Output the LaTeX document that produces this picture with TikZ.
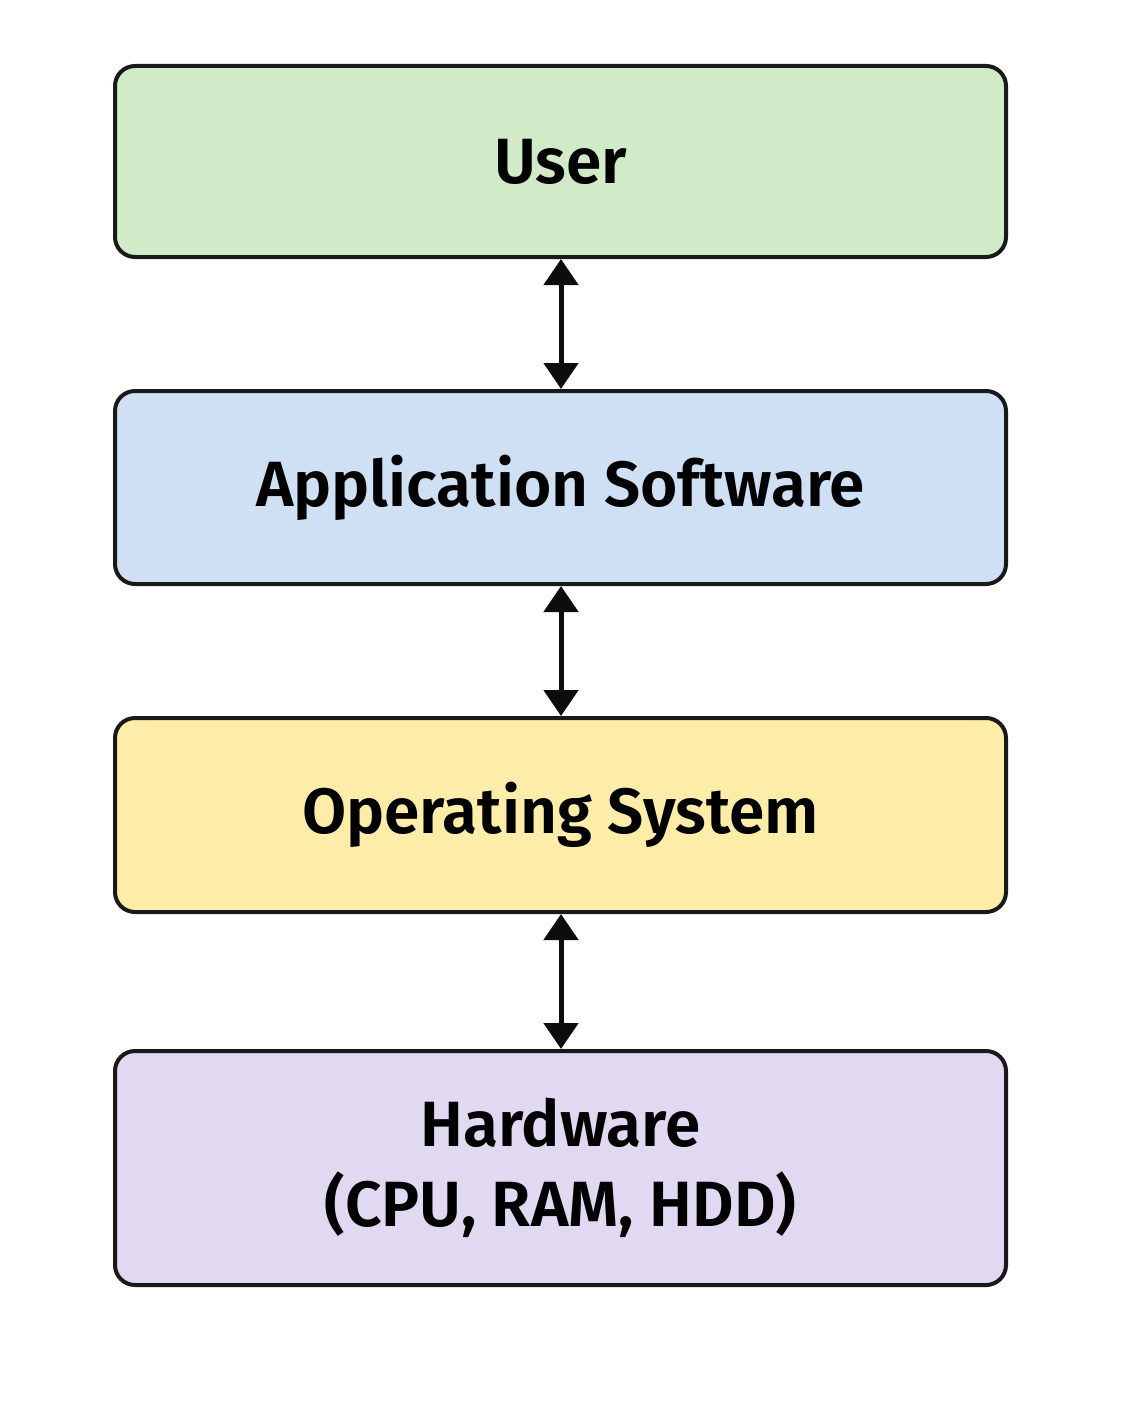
\documentclass[tikz,border=0pt]{standalone}
\usepackage{fontspec}
\setmainfont{Fira Sans}[BoldFont={Fira Sans SemiBold}]
\usetikzlibrary{arrows.meta}
\definecolor{cuser}{HTML}{D1EBC8}
\definecolor{capp}{HTML}{CFE0F5}
\definecolor{cos}{HTML}{FDEDA9}
\definecolor{chw}{HTML}{E1D9F2}
\tikzset{
  layer/.style={draw=black!90, line width=4pt, rounded corners=20pt, minimum width=891pt, inner sep=0pt, align=center, font=\bfseries\fontsize{64}{80}\selectfont, text=black},
  link/.style={line width=5pt, draw=black!95, {Triangle[length=26pt,width=34pt]}-{Triangle[length=26pt,width=34pt]}}
}
\begin{document}
\begin{tikzpicture}[x=1pt,y=-1pt]
\useasboundingbox (0,0) rectangle (1122,1402);
\node[layer, fill=cuser, minimum height=191pt] (user) at (560.5,161.5) {User};
\node[layer, fill=capp, minimum height=193pt] (app) at (560.5,487.5) {Application Software};
\node[layer, fill=cos, minimum height=194pt] (os) at (560.5,815) {Operating System};
\node[layer, fill=chw, minimum height=234pt] (hw) at (560.5,1168) {Hardware\\(CPU, RAM, HDD)};
\draw[link] (user.south -| 561,0) -- (app.north -| 561,0);
\draw[link] (app.south -| 561,0) -- (os.north -| 561,0);
\draw[link] (os.south -| 561,0) -- (hw.north -| 561,0);
\end{tikzpicture}
\end{document}
